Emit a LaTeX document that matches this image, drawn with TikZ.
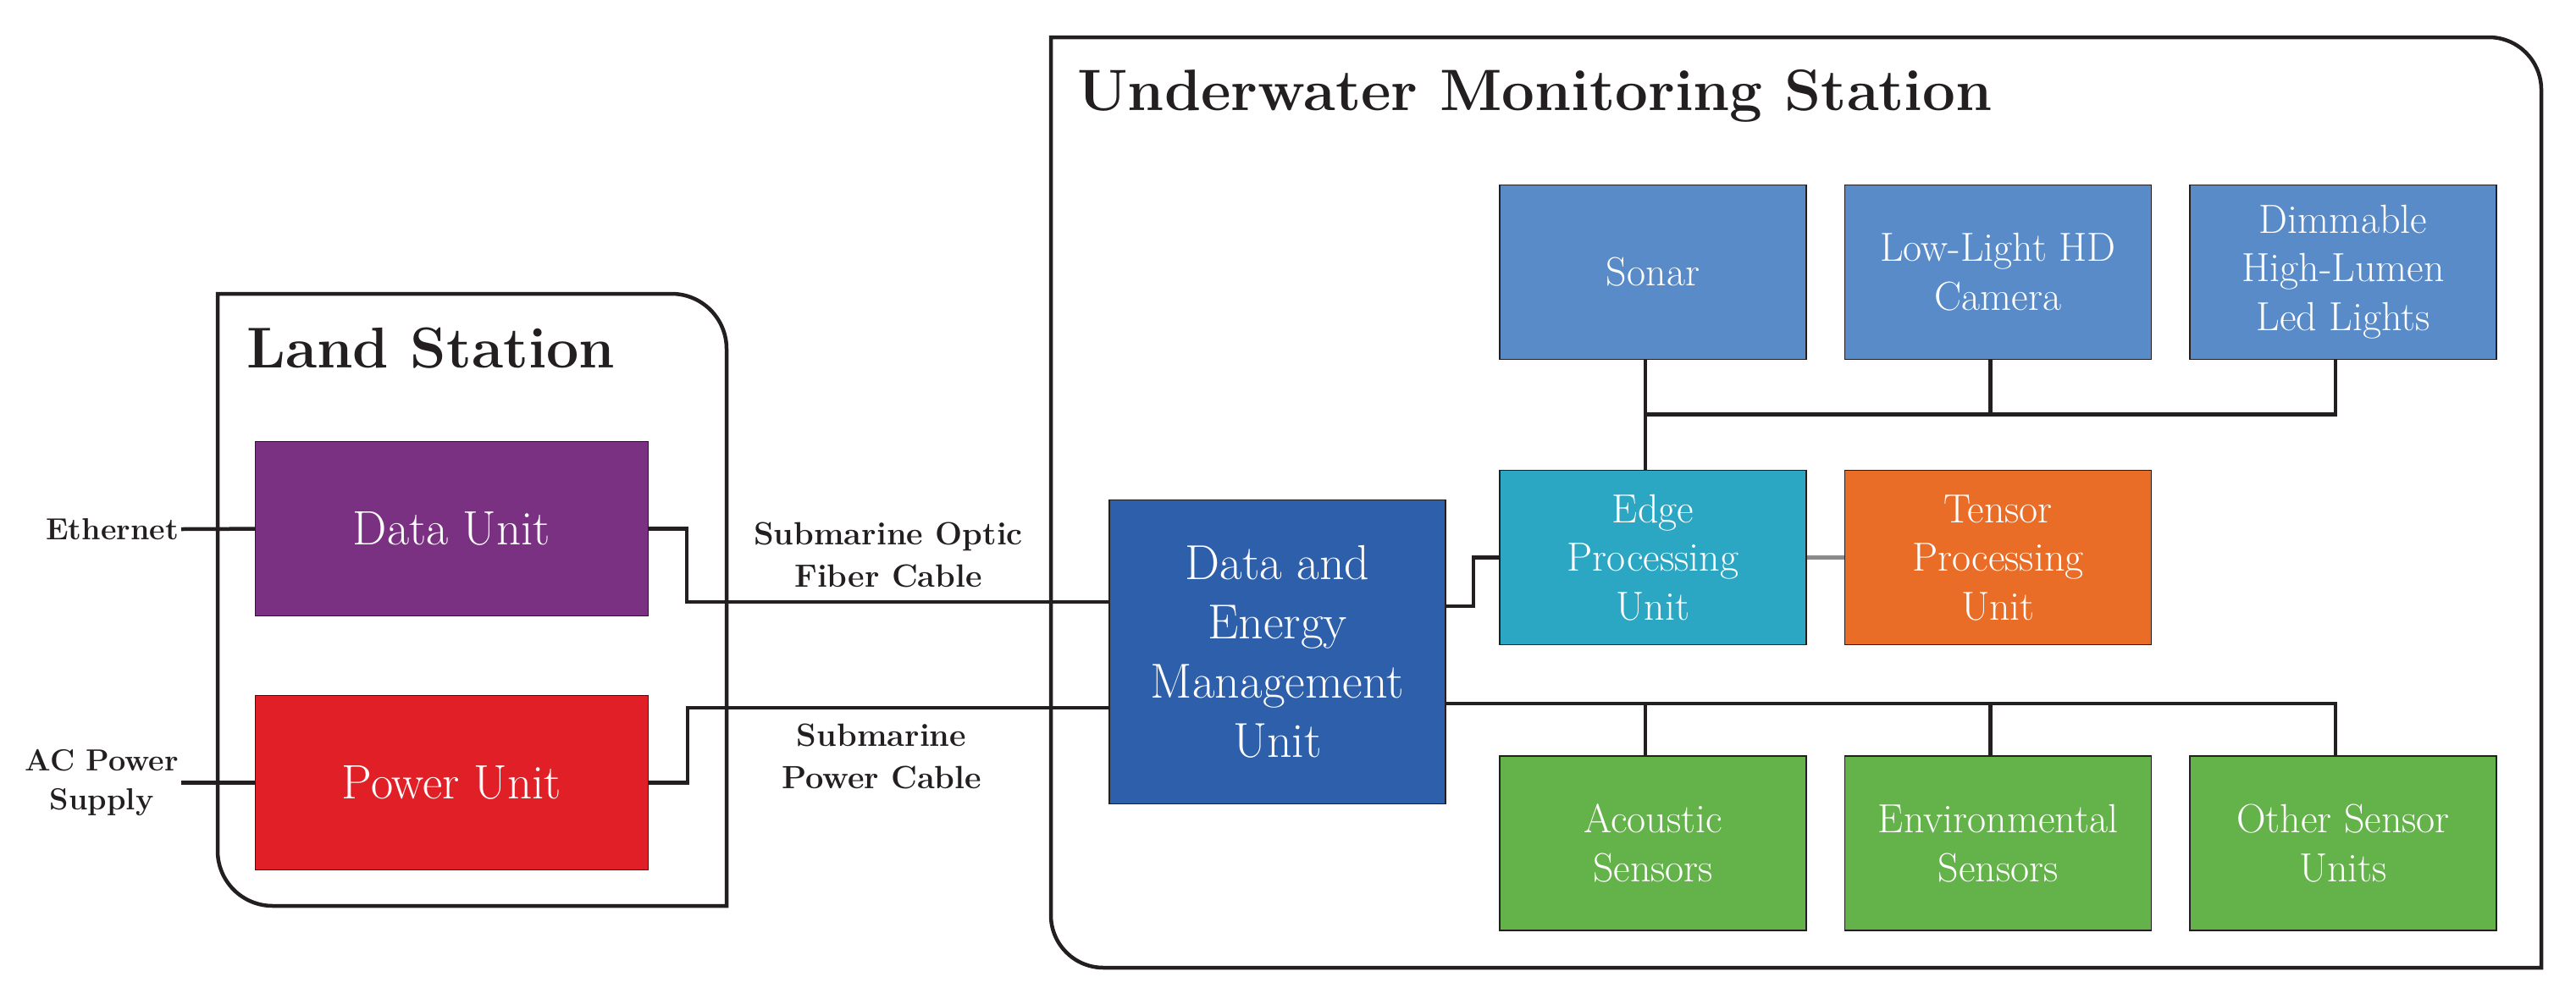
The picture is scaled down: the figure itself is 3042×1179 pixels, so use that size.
\documentclass[tikz,border=0pt]{standalone}
\usetikzlibrary{calc}
\definecolor{cline}{HTML}{231F20}
\definecolor{cpurple}{HTML}{7B3182}
\definecolor{cred}{HTML}{E01F26}
\definecolor{cdemu}{HTML}{2E5FAA}
\definecolor{clblue}{HTML}{588BC8}
\definecolor{ccyan}{HTML}{2CA7C3}
\definecolor{corange}{HTML}{E96D26}
\definecolor{cgreen}{HTML}{64B24A}
\definecolor{cgray}{HTML}{8A8A8A}
\begin{document}
\begin{tikzpicture}[x=1pt,y=-1pt,
  wire/.style={line width=4.5pt, draw=cline},
  outline/.style={line width=4.5pt, draw=cline},
  boxunit/.style={draw=cline, line width=1.2pt, text=white, align=center, inner sep=0pt},
  boxbig/.style={boxunit, minimum width=464pt, minimum height=206pt, font=\fontsize{57}{68}\selectfont},
  boxsmall/.style={boxunit, minimum width=362pt, minimum height=206pt, font=\fontsize{48}{57.5}\selectfont},
  lbl/.style={align=center, inner sep=3pt, text=cline, font=\bfseries\fontsize{38}{50}\selectfont},
  ttl/.style={anchor=base west, inner sep=0pt, text=cline, font=\bfseries\fontsize{68}{80}\selectfont}]
\fill[white] (0,0) rectangle (3042,1179);
\useasboundingbox (0,0) rectangle (3042,1179);

% outer frames
\draw[outline] (257,347) -- (793,347) arc[start angle=90,end angle=0,radius=65pt]
  -- (858,1070) -- (322,1070) arc[start angle=270,end angle=180,radius=65pt] -- cycle;
\draw[outline] (1241,44) -- (2939,44) arc[start angle=90,end angle=0,radius=62pt]
  -- (3001,1143) -- (1303,1143) arc[start angle=270,end angle=180,radius=62pt] -- cycle;

% titles
\node[ttl] (landtitle) at (291,434) {Land Station};
\node[ttl, font=\bfseries\fontsize{69}{80}\selectfont] (uwtitle) at (1272,130) {Underwater Monitoring Station};

% land station units
\node[boxbig, fill=cpurple] (data) at (533.5,624.6) {Data Unit};
\node[boxbig, fill=cred] (power) at (533.5,924.5) {Power Unit};

% DEMU
\node[boxunit, fill=cdemu, minimum width=397pt, minimum height=359pt,
      font=\fontsize{58}{70}\selectfont] (demu) at (1508.5,770.3)
      {Data and\\Energy\\Management\\Unit};

% top row
\node[boxsmall, fill=clblue] (sonar) at (1952,321.2) {Sonar};
\node[boxsmall, fill=clblue] (camera) at (2359.5,321.2) {Low-Light HD\\Camera};
\node[boxsmall, fill=clblue] (lights) at (2767,321.2) {Dimmable\\High-Lumen\\Led Lights};
% middle row
\node[boxsmall, fill=ccyan] (edge) at (1952,658.6) {Edge\\Processing\\Unit};
\node[boxsmall, fill=corange] (tensor) at (2359.5,658.6) {Tensor\\Processing\\Unit};
% bottom row
\node[boxsmall, fill=cgreen] (acoustic) at (1952,996) {Acoustic\\Sensors};
\node[boxsmall, fill=cgreen] (environ) at (2359.5,996) {Environmental\\Sensors};
\node[boxsmall, fill=cgreen] (other) at (2767,996) {Other Sensor\\Units};

% labels
\node[lbl, anchor=east, font=\bfseries\fontsize{36}{50}\selectfont] (eth) at (214,625) {Ethernet};
\node[lbl, anchor=east, font=\bfseries\fontsize{36}{46}\selectfont] (ac) at (214,924.5) {AC Power\\Supply};
\node[lbl] (fiber) at (1049,655) {Submarine Optic\\Fiber Cable};
\node[lbl] (pcable) at (1041,893) {Submarine\\Power Cable};

% helper coordinates
\coordinate (fj) at (811,711);
\coordinate (pj) at (812,836);
\coordinate (ej) at (1740,716);
\coordinate (tb) at (1943,489.4);
\coordinate (bb) at (1943,831.2);
\coordinate (c1t) at ($(sonar.south)+(-9,0)$);
\coordinate (c2t) at ($(camera.south)+(-9,0)$);
\coordinate (c3t) at ($(lights.south)+(-9,0)$);
\coordinate (c1b) at ($(acoustic.north)+(-9,0)$);
\coordinate (c2b) at ($(environ.north)+(-9,0)$);
\coordinate (c3b) at ($(other.north)+(-9,0)$);

% connectors
\draw[wire] (eth.east) -- (data.west);
\draw[wire] (ac.east) -- (power.west);
\draw[wire] (data.east) -| (fj) -- (fj -| demu.west);
\draw[wire] (power.east) -| (pj) -- (pj -| demu.west);
\draw[wire] (ej -| demu.east) -- (ej) |- (edge.west);
\draw[line width=4.5pt, draw=cgray] (edge.east) -- (tensor.west);
\draw[wire] (c1t) -- (c1t |- edge.north);
\draw[wire] (c3t) |- (tb);
\draw[wire] (c2t) -- (c2t |- tb);
\draw[wire] (bb -| demu.east) -| (c3b);
\draw[wire] (c1b) -- (c1b |- bb);
\draw[wire] (c2b) -- (c2b |- bb);
\end{tikzpicture}
\end{document}
